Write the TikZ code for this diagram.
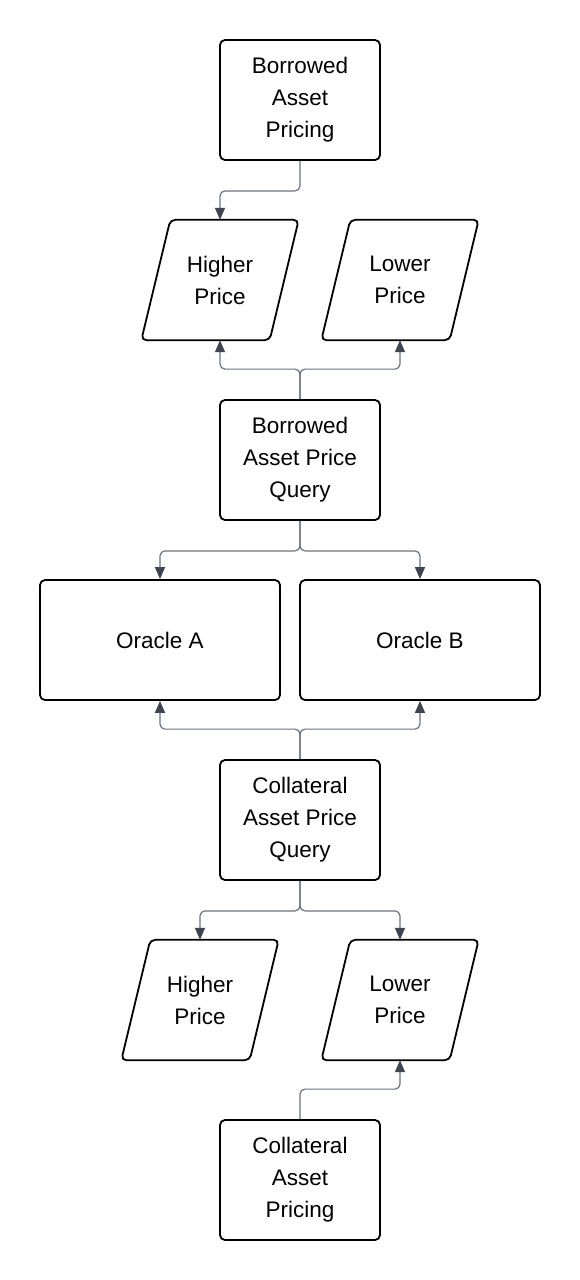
\documentclass[tikz,border=0pt]{standalone}
\usepackage{fontspec}
\setmainfont{Liberation Sans}
\usetikzlibrary{arrows.meta}
\definecolor{linegray}{HTML}{6B7280}
\definecolor{tipgray}{HTML}{3F4451}
\begin{document}
\begin{tikzpicture}[x=1pt,y=1pt]
\tikzstyle{every node}+=[font=\fontsize{22.5}{32}\selectfont]
\tikzstyle{outline}=[draw=black, line width=1.8pt, rounded corners=5pt]
\tikzstyle{box}=[outline, align=center, minimum width=160pt, minimum height=120pt, inner sep=0pt]
\tikzstyle{wide}=[box, minimum width=240pt]
\tikzstyle{slanted}=[align=center, minimum width=157pt, minimum height=120pt, inner sep=0pt,
  append after command={\pgfextra{\draw [outline] ([xshift=29pt]\tikzlastnode.north west) -- (\tikzlastnode.north east) -- ([xshift=-29pt]\tikzlastnode.south east) -- (\tikzlastnode.south west) -- cycle;}}]
\tikzstyle{conn}=[draw=linegray, line width=1.2pt, rounded corners=5pt, -{Triangle[length=12pt,width=10pt,color=tipgray]}]
\useasboundingbox (0,0) rectangle (580,-1280);
\node [box] (bap) at (300,-100) {Borrowed\\Asset\\Pricing};
\node [slanted] (bhigh) at (220,-280) {Higher\\Price};
\node [slanted] (blow) at (400,-280) {Lower\\Price};
\node [box] (bapq) at (300,-460) {Borrowed\\Asset Price\\Query};
\node [wide] (oa) at (160,-640) {Oracle A};
\node [wide] (ob) at (420,-640) {Oracle B};
\node [box] (capq) at (300,-820) {Collateral\\Asset Price\\Query};
\node [slanted] (chigh) at (200,-1000) {Higher\\Price};
\node [slanted] (clow) at (400,-1000) {Lower\\Price};
\node [box] (cap) at (300,-1180) {Collateral\\Asset\\Pricing};
% top half
\draw [conn] (bap.south) -- ++(0,-30) -| (bhigh.north);
\draw [conn] (bapq.north) -- ++(0,30) -| (bhigh.south);
\draw [conn] (bapq.north) -- ++(0,30) -| (blow.south);
\draw [conn] (bapq.south) -- ++(0,-30) -| (oa.north);
\draw [conn] (bapq.south) -- ++(0,-30) -| (ob.north);
% bottom half
\draw [conn] (capq.north) -- ++(0,30) -| (oa.south);
\draw [conn] (capq.north) -- ++(0,30) -| (ob.south);
\draw [conn] (capq.south) -- ++(0,-30) -| (chigh.north);
\draw [conn] (capq.south) -- ++(0,-30) -| (clow.north);
\draw [conn] (cap.north) -- ++(0,30) -| (clow.south);
\end{tikzpicture}
\end{document}
